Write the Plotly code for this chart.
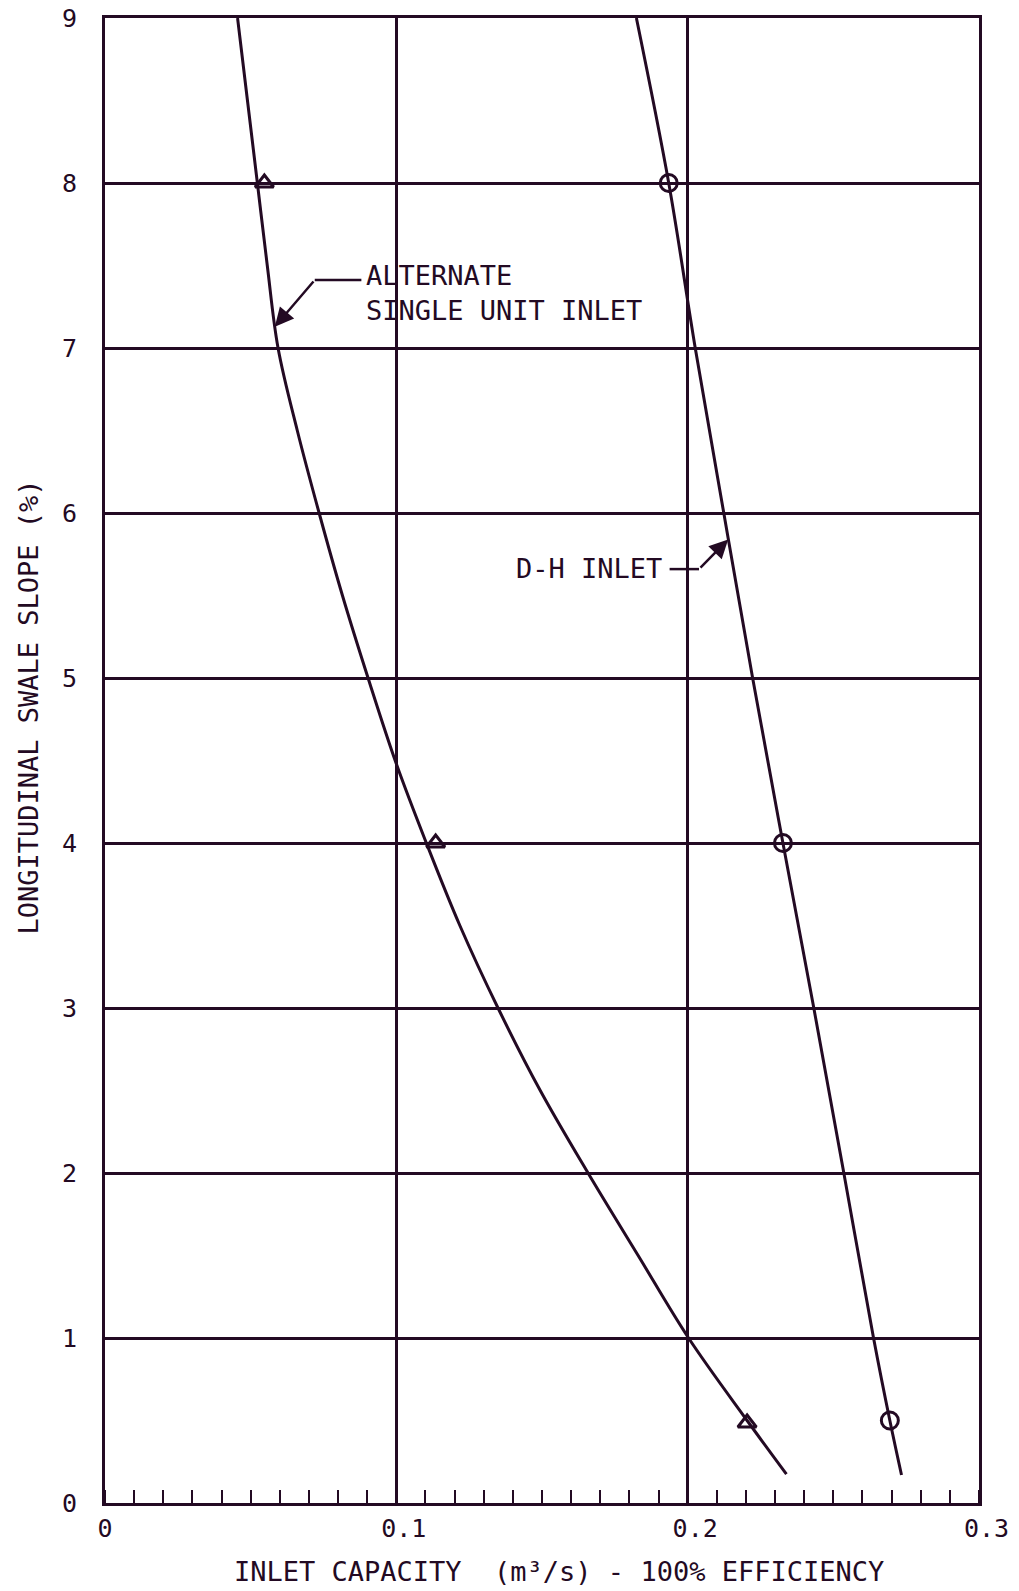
import plotly.graph_objects as go

INK = "#230a23"
FONT = "DejaVu Sans Mono"
NB = "\u00a0"

# Alternate single unit inlet curve (x = inlet capacity m3/s, y = slope %)
alt_x = [0.0455, 0.0489, 0.0523, 0.0557, 0.0594, 0.0660, 0.0735, 0.0815, 0.0903, 0.1000, 0.1103, 0.1218, 0.1349, 0.1494, 0.1658, 0.1830, 0.2003, 0.2204, 0.2339]
alt_y = [9.0, 8.5, 8.0, 7.5, 7.0, 6.5, 6.0, 5.5, 5.0, 4.48, 4.0, 3.5, 3.0, 2.5, 2.0, 1.5, 1.0, 0.5, 0.175]
alt_mark_x = [0.0547, 0.1135, 0.2204]
alt_mark_y = [8.0, 4.0, 0.485]

# D-H inlet curve
dh_x = [0.1824, 0.1935, 0.2026, 0.2124, 0.2223, 0.2327, 0.2433, 0.2536, 0.2638, 0.2694, 0.2734]
dh_y = [9.0, 8.0, 7.0, 6.0, 5.0, 4.0, 3.0, 2.0, 1.0, 0.5, 0.17]
dh_mark_x = [0.1935, 0.2327, 0.2694]
dh_mark_y = [8.0, 4.0, 0.5]

x_ticks = [0, 0.1, 0.2, 0.3]
x_tick_text = ["0", NB + "0.1", NB + "0.2", NB + "0.3"]
y_ticks = list(range(0, 10))

fig = go.Figure()
fig.add_trace(go.Scatter(x=alt_x, y=alt_y, mode="lines",
                         line=dict(color=INK, width=3, shape="spline", smoothing=1.0),
                         hoverinfo="skip", showlegend=False))
fig.add_trace(go.Scatter(x=dh_x, y=dh_y, mode="lines",
                         line=dict(color=INK, width=3, shape="spline", smoothing=1.0),
                         hoverinfo="skip", showlegend=False))
fig.add_trace(go.Scatter(x=alt_mark_x, y=alt_mark_y, mode="markers",
                         marker=dict(symbol="triangle-up-open", size=16, color=INK,
                                     line=dict(width=3, color=INK)),
                         showlegend=False))
fig.add_trace(go.Scatter(x=dh_mark_x, y=dh_mark_y, mode="markers",
                         marker=dict(symbol="circle-open", size=17, color=INK,
                                     line=dict(width=3, color=INK)),
                         showlegend=False))

# Leader lines (horizontal parts)
fig.add_shape(type="line", x0=0.0720, y0=7.412, x1=0.0880, y1=7.412,
              xref="x", yref="y", line=dict(color=INK, width=2.5))
fig.add_shape(type="line", x0=0.1938, y0=5.66, x1=0.2039, y1=5.66,
              xref="x", yref="y", line=dict(color=INK, width=2.5))

# Arrows (diagonal parts)
fig.add_annotation(x=0.0583, y=7.129, ax=0.0720, ay=7.412, xref="x", yref="y",
                   axref="x", ayref="y", text="", showarrow=True, arrowhead=2,
                   arrowsize=1.5, arrowwidth=2.5, arrowcolor=INK, standoff=0)
fig.add_annotation(x=0.2139, y=5.84, ax=0.2039, ay=5.66, xref="x", yref="y",
                   axref="x", ayref="y", text="", showarrow=True, arrowhead=2,
                   arrowsize=1.5, arrowwidth=2.5, arrowcolor=INK, standoff=0)

lab_font = dict(family=FONT, size=27, color=INK)
fig.add_annotation(x=0.0888, y=7.336, text="ALTERNATE<br>SINGLE UNIT INLET", showarrow=False,
                   xanchor="left", yanchor="middle", align="left", font=lab_font,
                   xref="x", yref="y")
fig.add_annotation(x=0.1404, y=5.666, text="D-H INLET", showarrow=False,
                   xanchor="left", yanchor="middle", font=lab_font, xref="x", yref="y")

# Axis titles
fig.add_annotation(x=0.52, y=-0.0463, xref="paper", yref="paper",
                   text="INLET CAPACITY " + NB + "(m³/s) - 100% EFFICIENCY", showarrow=False,
                   xanchor="center", yanchor="middle", font=lab_font)
fig.add_annotation(x=-0.0875, y=0.536, xref="paper", yref="paper",
                   text="LONGITUDINAL SWALE SLOPE (%)", showarrow=False, textangle=-90,
                   xanchor="center", yanchor="middle", font=lab_font)

fig.update_xaxes(range=[0, 0.3], tickvals=x_ticks, ticktext=x_tick_text,
                 showgrid=True, gridcolor=INK, gridwidth=3,
                 showline=True, linecolor=INK, linewidth=3, mirror=True,
                 ticks="", zeroline=False, ticklabelstandoff=1, automargin=False,
                 tickfont=dict(family=FONT, size=25, color=INK),
                 minor=dict(dtick=0.01, ticks="inside", ticklen=13, tickwidth=2,
                            tickcolor=INK, showgrid=False))
fig.update_yaxes(range=[0, 9], tickvals=y_ticks,
                 showgrid=True, gridcolor=INK, gridwidth=3,
                 showline=True, linecolor=INK, linewidth=3, mirror=True,
                 ticks="", zeroline=False, ticklabelstandoff=20, automargin=False,
                 tickfont=dict(family=FONT, size=25, color=INK))

fig.update_layout(width=1019, height=1591,
                  margin=dict(l=105, r=40, t=18, b=88),
                  paper_bgcolor="white", plot_bgcolor="white",
                  showlegend=False)

fig.write_html("out.html")
